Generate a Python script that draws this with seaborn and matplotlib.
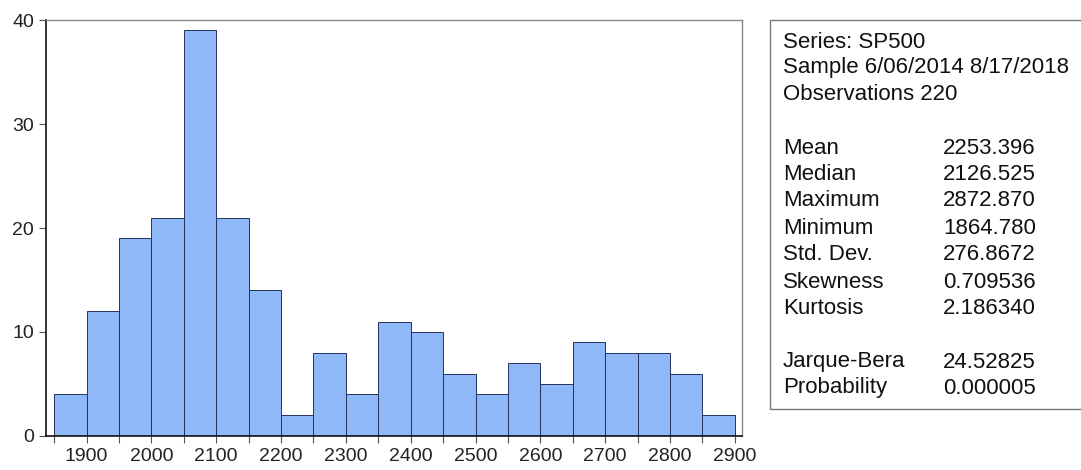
import numpy as np
import pandas as pd
import matplotlib
matplotlib.use("Agg")
import matplotlib.pyplot as plt
import seaborn as sns
from matplotlib.patches import Rectangle

# histogram counts, bins of width 50 from 1850 to 2900
bin_edges = list(range(1850, 2901, 50))
counts = [4, 12, 19, 21, 39, 21, 14, 2, 8, 4, 11, 10, 6, 4, 7, 5, 9, 8, 8, 6, 2]

header_lines = ["Series: SP500", "Sample 6/06/2014 8/17/2018", "Observations 220"]
stat_names = ["Mean", "Median", "Maximum", "Minimum", "Std. Dev.", "Skewness", "Kurtosis"]
stat_values = ["2253.396", "2126.525", "2872.870", "1864.780", "276.8672", "0.709536", "2.186340"]
test_names = ["Jarque-Bera", "Probability"]
test_values = ["24.52825", "0.000005"]

mids = [(a + b) / 2 for a, b in zip(bin_edges[:-1], bin_edges[1:])]
df = pd.DataFrame({"SP500": mids, "n": counts})

sns.set_style("white")
plt.rcParams["font.family"] = ["Liberation Sans", "DejaVu Sans"]

W, H = 1081, 470
fig = plt.figure(figsize=(W / 100, H / 100), dpi=100)
ax = fig.add_axes([46 / W, 1 - 436 / H, (742 - 46) / W, (436 - 20) / H])

sns.histplot(data=df, x="SP500", weights="n", bins=bin_edges, ax=ax,
             color="#8fb8f8", alpha=1, edgecolor="#22325e", linewidth=0.7)

ax.set_xlim(1837.5, 2911)
ax.set_ylim(0, 40)
ax.set_xlabel("")
ax.set_ylabel("")
ax.set_xticks(range(1900, 2901, 100))
ax.set_xticks(bin_edges, minor=True)
ax.set_yticks([0, 10, 20, 30, 40])
ax.tick_params(axis="both", which="both", direction="out", length=5,
               width=0.8, color="#555555", labelsize=14, labelcolor="#222222",
               left=True, bottom=True)
for side in ["left", "bottom"]:
    ax.spines[side].set_color("#111111")
    ax.spines[side].set_linewidth(1.2)
for side in ["top", "right"]:
    ax.spines[side].set_color("#888888")
    ax.spines[side].set_linewidth(1.0)

# statistics box
box = Rectangle((770 / W, 1 - 409 / H), 320 / W, (409 - 20) / H,
                transform=fig.transFigure, facecolor="white",
                edgecolor="#777777", linewidth=1.0, clip_on=False)
fig.add_artist(box)

def put(x, y, s):
    fig.text(x / W, 1 - y / H, s, fontsize=16, color="#111111",
             ha="left", va="center")

ys_head = [42, 68, 95]
for y, s in zip(ys_head, header_lines):
    put(783, y, s)
ys_stats = [148, 175, 201, 228, 255, 282, 308]
for y, n, v in zip(ys_stats, stat_names, stat_values):
    put(783, y, n)
    put(943, y, v)
ys_test = [362, 388]
for y, n, v in zip(ys_test, test_names, test_values):
    put(783, y, n)
    put(943, y, v)

fig.savefig("out.png", dpi=100)
